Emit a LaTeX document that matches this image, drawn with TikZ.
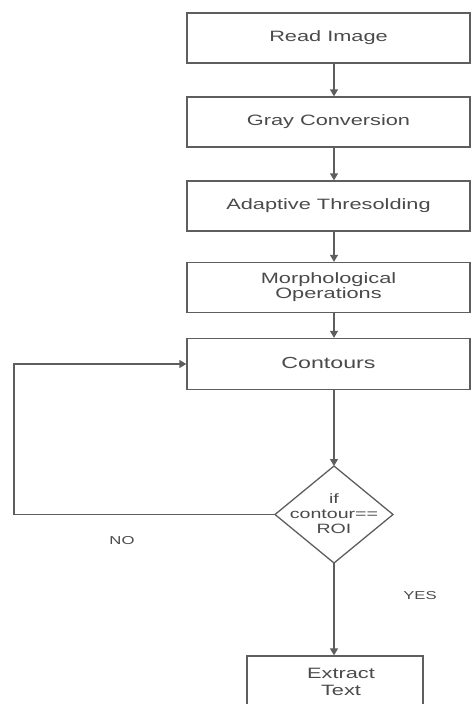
\documentclass[tikz,border=0pt]{standalone}
\usepackage{fontspec}
\setmainfont[FakeStretch=1.45]{Liberation Sans}
\usetikzlibrary{shapes.geometric,arrows.meta}
\definecolor{linecol}{HTML}{5E5E5E}
\definecolor{textcol}{HTML}{4A4A4A}
\tikzset{
  procbox/.style={draw=linecol, line width=1.3pt, minimum width=283pt, minimum height=50pt, inner sep=0pt, text=textcol, align=center, font=\fontsize{15}{15}\selectfont},
  decbox/.style={draw=linecol, line width=1.3pt, diamond, minimum width=118pt, minimum height=97pt, inner sep=0pt, outer sep=0pt, text=textcol, font=\fontsize{13.5}{15}\selectfont},
  lbl/.style={text=textcol, font=\fontsize{11.5}{13}\selectfont, inner sep=0pt},
  conn/.style={draw=linecol, line width=1.3pt, -{Triangle[length=7pt,width=8pt]}},
}
\begin{document}
\begin{tikzpicture}[x=1pt,y=-1pt]
\useasboundingbox (0,0) rectangle (473,704);
\clip (0,0) rectangle (473,704);
\node[procbox] (read) at (328.5,38) {Read Image};
\node[procbox] (gray) at (328.5,122) {Gray Conversion};
\node[procbox] (adap) at (328.5,206) {Adaptive Thresolding};
\node[procbox] (morph) at (328.5,287.5) {\raisebox{-2pt}{\begin{tabular}{@{}c@{}}Morphological\\Operations\end{tabular}}};
\node[procbox, minimum height=51pt, font=\fontsize{16}{16}\selectfont] (cont) at (328.5,364) {\raisebox{2pt}{Contours}};
\node[decbox] (dia) at (334,514.5) {\smash{\makebox[0pt]{\raisebox{-5pt}{\begin{tabular}{@{}c@{}}if\\contour==\\ROI\end{tabular}}}}};
\node[procbox, minimum width=176pt, minimum height=51pt, font=\fontsize{15}{17}\selectfont] (ext) at (335,681.5) {\hspace*{12pt}Extract\\\hspace*{12pt}Text};
\coordinate (loopL) at (14,514.5);
\draw[conn] (read.south -| dia) -- (gray.north -| dia);
\draw[conn] (gray.south -| dia) -- (adap.north -| dia);
\draw[conn] (adap.south -| dia) -- (morph.north -| dia);
\draw[conn] (morph.south -| dia) -- (cont.north -| dia);
\draw[conn] (cont.south -| dia) -- (dia.north);
\draw[conn] (dia.south) -- (ext.north -| dia);
\draw[conn] (dia.west) -- (loopL) |- (cont.west);
\node[lbl] (no) at (122,541) {NO};
\node[lbl] (yes) at (420,596) {YES};
\end{tikzpicture}
\end{document}
